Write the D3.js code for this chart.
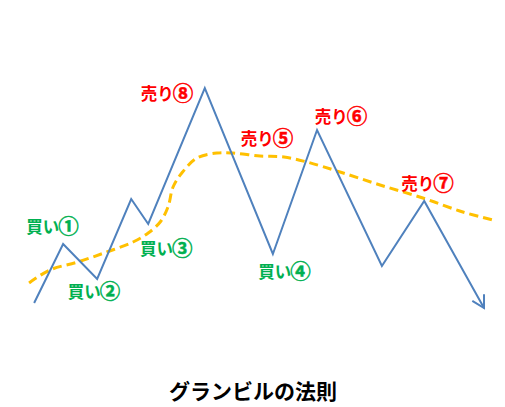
<!DOCTYPE html>
<html><head><meta charset="utf-8">
<script src="https://cdn.jsdelivr.net/npm/d3@7"></script>
<style>html,body{margin:0;padding:0;background:#fff;}</style>
</head><body>
<svg id="c" width="505" height="407"></svg>
<script>
// Price path (time index, price level)
const priceT = [0.9, 7.2, 14.6, 22.0, 25.7, 38.0, 52.8, 62.4, 76.5, 85.7, 98.7];
const priceP = [10.8, 34.4, 20.4, 52.4, 42.4, 96.8, 30.4, 80.0, 25.6, 51.6, 8.8];
// Moving average
const maT = [-0.2, 4.3, 10.4, 16.7, 22.4, 25.7, 28.3, 30.0, 31.1, 33.0, 36.3, 40.7, 44.1, 50.0, 55.2, 60.2, 67.4, 76.1, 85.4, 94.1, 100.7];
const maP = [18.8, 24.0, 27.2, 31.2, 35.2, 38.8, 43.2, 49.2, 57.2, 62.8, 68.8, 70.8, 70.8, 69.6, 69.2, 67.2, 63.2, 58.0, 52.8, 47.2, 44.0];
// Annotations
const labelWord = ["買い", "買い", "買い", "買い", "売り", "売り", "売り", "売り"];
const labelNum = ["①", "②", "③", "④", "⑤", "⑥", "⑦", "⑧"];
const labelT = [4.9, 13.9, 29.6, 55.3, 51.5, 67.6, 86.4, 29.8];
const labelP = [38.8, 12.8, 30.0, 20.8, 74.0, 82.8, 56.0, 92.0];
const labelKind = ["buy", "buy", "buy", "buy", "sell", "sell", "sell", "sell"];
const title = "グランビルの法則";

const svg = d3.select("#c");
const x = d3.scaleLinear().domain([0, 100]).range([30, 490]);
const y = d3.scaleLinear().domain([0, 100]).range([330, 80]);

svg.append("defs").append("marker")
  .attr("id", "arrow").attr("viewBox", "-15 -9 18 18")
  .attr("refX", 0).attr("refY", 0)
  .attr("markerWidth", 18).attr("markerHeight", 18)
  .attr("markerUnits", "userSpaceOnUse")
  .attr("orient", "auto")
  .append("path").attr("d", "M-12,-6.7 L0,0 L-12,6.7")
  .attr("fill", "none").attr("stroke", "#4F81BD").attr("stroke-width", 2);

const ma = maT.map((t, i) => [t, maP[i]]);
svg.append("path").datum(ma)
  .attr("d", d3.line().x(d => x(d[0])).y(d => y(d[1])).curve(d3.curveCatmullRom))
  .attr("fill", "none").attr("stroke", "#FFC000").attr("stroke-width", 3)
  .attr("stroke-dasharray", "9,5");

const price = priceT.map((t, i) => [t, priceP[i]]);
svg.append("path").datum(price)
  .attr("d", d3.line().x(d => x(d[0])).y(d => y(d[1])))
  .attr("fill", "none").attr("stroke", "#4F81BD").attr("stroke-width", 2)
  .attr("stroke-linejoin", "miter")
  .attr("marker-end", "url(#arrow)");

const labels = labelWord.map((s, i) => ({s, n: labelNum[i], t: labelT[i], p: labelP[i], k: labelKind[i]}));
const lt = svg.selectAll("text.lab").data(labels).enter().append("text")
  .attr("class", "lab")
  .attr("x", d => x(d.t)).attr("y", d => y(d.p))
  .attr("text-anchor", "middle")
  .attr("font-family", "'Noto Sans CJK JP', sans-serif")
  .attr("font-size", 16.5).attr("font-weight", "bold")
  .attr("fill", d => d.k === "buy" ? "#00B050" : "#FF0000");
lt.append("tspan").text(d => d.s);
lt.append("tspan").attr("font-size", 20.5).attr("dy", 1).attr("dx", -1)
  .attr("stroke", d => d.k === "buy" ? "#00B050" : "#FF0000").attr("stroke-width", 0.5)
  .text(d => d.n);

svg.append("text").attr("x", 253).attr("y", 399)
  .attr("text-anchor", "middle")
  .attr("font-family", "'Noto Sans CJK JP', sans-serif")
  .attr("font-size", 21).attr("font-weight", "bold")
  .attr("fill", "#000")
  .text(title);
</script>
</body></html>
